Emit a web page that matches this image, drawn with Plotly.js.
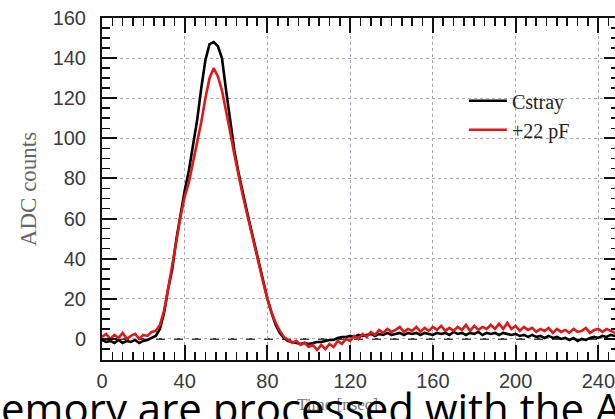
<!DOCTYPE html>
<html>
<head>
<meta charset="utf-8">
<script src="https://cdn.plot.ly/plotly-3.0.1.min.js"></script>
<style>
  html, body { margin: 0; padding: 0; background: #fff; overflow: hidden; }
  #chart { width: 619px; height: 419px; }
</style>
</head>
<body>
<div id="chart"></div>
<script>
// Time samples (nsec)
const timeNs = [
  0, 2, 4, 6, 8, 10, 12, 14, 16, 18,
  20, 22, 24, 26, 28, 30, 32, 34, 36, 38,
  40, 42, 44, 46, 48, 50, 52, 54, 56, 58,
  60, 62, 64, 66, 68, 70, 72, 74, 76, 78,
  80, 82, 84, 86, 88, 90, 92, 94, 96, 98,
  100, 102, 104, 106, 108, 110, 112, 114, 116, 118,
  120, 122, 124, 126, 128, 130, 132, 134, 136, 138,
  140, 142, 144, 146, 148, 150, 152, 154, 156, 158,
  160, 162, 164, 166, 168, 170, 172, 174, 176, 178,
  180, 182, 184, 186, 188, 190, 192, 194, 196, 198,
  200, 202, 204, 206, 208, 210, 212, 214, 216, 218,
  220, 222, 224, 226, 228, 230, 232, 234, 236, 238,
  240, 242, 244, 246, 248, 250
];

// ADC counts, Cstray
const cstray = [
  -0.5, -1.5, -1, -2, -0.5, -2, -1, -1.5, -0.5, -2,
  -1, -0.5, 0.5, 1.5, 5, 13, 25, 35, 50, 63,
  74, 84, 96, 109, 125, 139, 147, 148, 146, 140,
  124, 108, 94, 83, 73, 64, 55, 46, 37, 28,
  20, 13, 7, 3, 0.5, -1, -1.5, -2, -2.5, -2,
  -2.5, -2, -1.5, -1.5, -1, -0.5, -0.5, 0.5, 1, 1,
  1.5, 1, 2, 1.5, 2, 2.5, 1.5, 2.5, 2, 3,
  2, 2.5, 3, 2, 3, 2.5, 3, 2, 3, 2.5,
  2, 3, 2.5, 3, 2, 3.5, 2.5, 3, 2, 3,
  2.5, 3.5, 2, 3, 2.5, 3, 2, 3, 2.5, 2,
  2.5, 1.5, 2, 1, 2, 1, 1.5, 0.5, 1.5, 0.5,
  1, 0, 0.5, -0.5, 0.5, -1, 0, -0.5, 0.5, 1,
  0.5, 1.5, 1, 2, 1.5, 2
];

// ADC counts, +22 pF
const plus22pF = [
  1, 2.5, 0, 2, 0.5, 3, 0, 1.5, 2.5, 0,
  2, 1.5, 3.5, 4, 7, 14, 25, 36, 49, 61,
  71, 78, 88, 98, 108, 120, 130, 135, 131, 124,
  114, 103, 92, 81, 72, 63, 54, 45, 36, 28,
  20, 13, 8, 4, 1, -0.5, -2, -1, -3, -2,
  -4, -3, -5.5, -3, -5, -2.5, -4, -1, -2.5, 0,
  -1, 1.5, 0, 2.5, 1, 3.5, 2, 4.5, 3, 5,
  3.5, 4.5, 6, 3.5, 5, 4, 6, 3.5, 5.5, 4,
  6, 4.5, 6.5, 4, 5.5, 4, 6, 4.5, 7, 4,
  6.5, 4.5, 6, 5, 7, 5, 7.5, 5, 8, 5,
  6.5, 4, 6, 4.5, 5.5, 3.5, 5, 4, 5.5, 3,
  5, 3.5, 4.5, 3, 5, 3.5, 4, 5.5, 3, 4.5,
  5, 3.5, 5, 4, 3, 4
];

const seriesNames = ["Cstray", "+22 pF"];
const xTickVals = [0, 40, 80, 120, 160, 200, 240];
const yTickVals = [0, 20, 40, 60, 80, 100, 120, 140, 160];
const xTitle = "Time [nsec]";
const yTitle = "ADC counts";
const slideText = "emory are processed with the A";

const traces = [
  { x: timeNs, y: cstray, name: seriesNames[0], type: "scatter", mode: "lines",
    line: { color: "#000000", width: 2.6 } },
  { x: timeNs, y: plus22pF, name: seriesNames[1], type: "scatter", mode: "lines",
    line: { color: "#e01818", width: 2.6 } }
];

const sansTick = { family: "Liberation Sans, Arial, sans-serif", size: 20, color: "#3a3a3a" };
const serif = "Liberation Serif, Times New Roman, serif";

const layout = {
  width: 619, height: 419,
  margin: { l: 102, r: 0, t: 18, b: 59, pad: 0 },
  paper_bgcolor: "#ffffff", plot_bgcolor: "#ffffff",
  showlegend: true,
  legend: {
    x: 0.70, y: 0.815, xanchor: "left", yanchor: "top",
    bgcolor: "rgba(0,0,0,0)", borderwidth: 0,
    font: { family: serif, size: 20, color: "#222" },
    itemwidth: 38,
    tracegroupgap: 0
  },
  xaxis: {
    range: [0, 250], tickvals: xTickVals, ticktext: xTickVals.map(String),
    ticks: "inside", ticklen: 15, tickwidth: 2, tickcolor: "#111",
    mirror: "allticks", showline: true, linecolor: "#111", linewidth: 2,
    showgrid: true, gridcolor: "#a4a8b4", gridwidth: 1, griddash: "dot",
    zeroline: false, tickfont: sansTick, ticklabelstandoff: 2,
    minor: { dtick: 5, tick0: 0, ticks: "inside", ticklen: 8, tickwidth: 1.6, tickcolor: "#111", showgrid: false }
  },
  yaxis: {
    range: [-10.5, 160], tickvals: yTickVals, ticktext: yTickVals.map(String),
    ticks: "inside", ticklen: 15, tickwidth: 2, tickcolor: "#111",
    mirror: "allticks", showline: true, linecolor: "#111", linewidth: 2,
    showgrid: true, gridcolor: "#a4a8b4", gridwidth: 1, griddash: "dot",
    zeroline: false, tickfont: sansTick, ticklabelstandoff: 10,
    minor: { dtick: 5, tick0: 0, ticks: "inside", ticklen: 8, tickwidth: 1.6, tickcolor: "#111", showgrid: false },
    title: { text: yTitle, standoff: 10,
      font: { family: serif, size: 23, color: "#666" } }
  },
  shapes: [
    { type: "line", xref: "paper", x0: 0, x1: 1, yref: "y", y0: 0, y1: 0,
      line: { color: "#000", width: 1.4, dash: "dash" }, layer: "below" }
  ],
  annotations: [
    { text: xTitle, xref: "paper", yref: "paper", x: 0.455, y: -0.13,
      xanchor: "center", yanchor: "middle", showarrow: false,
      font: { family: serif, size: 17, color: "#777" } },
    { text: slideText, xref: "paper", yref: "paper", x: -0.2, y: -0.139,
      xanchor: "left", yanchor: "middle", showarrow: false,
      font: { family: "Open Sans, Noto Sans, sans-serif", size: 42, color: "#000" } }
  ]
};

Plotly.newPlot("chart", traces, layout, { staticPlot: true, displayModeBar: false });
</script>
</body>
</html>
